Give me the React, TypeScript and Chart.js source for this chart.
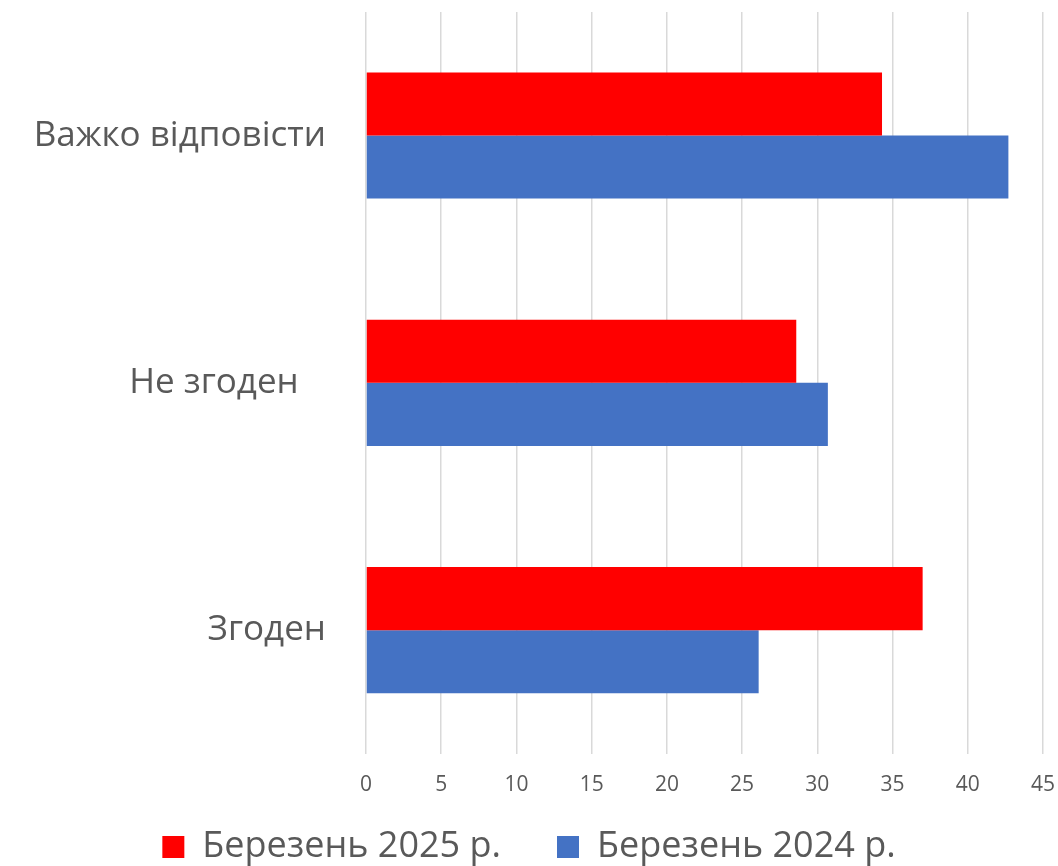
import React, { useEffect, useRef } from "react";
import { Chart, registerables } from "chart.js";

Chart.register(...registerables);

const categories = ["Важко відповісти", "Не згоден   ", "Згоден"];
const series2025 = [34.3, 28.6, 37.0];
const series2024 = [42.7, 30.7, 26.1];
const seriesNames = ["Березень 2025 р.", "Березень 2024 р."];
const xTicks = { min: 0, max: 45, step: 5 };

const FONT = "'Open Sans', 'Noto Sans', sans-serif";
const TEXT = "#595959";
const GRID = "#d9d9d9";

export default function App() {
  const ref = useRef<HTMLCanvasElement | null>(null);
  useEffect(() => {
    document.body.style.margin = "0";
    const ctx = ref.current!;
    const chart = new Chart(ctx, {
      type: "bar",
      data: {
        labels: categories,
        datasets: [
          { label: seriesNames[0], data: series2025, backgroundColor: "#ff0000", categoryPercentage: 0.51, barPercentage: 1 },
          { label: seriesNames[1], data: series2024, backgroundColor: "#4472c4", categoryPercentage: 0.51, barPercentage: 1 },
        ],
      },
      options: {
        indexAxis: "y",
        animation: false,
        responsive: false,
        maintainAspectRatio: false,
        layout: { padding: { top: 0, right: 0, left: 0, bottom: -9 } },
        scales: {
          x: {
            min: xTicks.min,
            max: xTicks.max,
            ticks: { stepSize: xTicks.step, color: TEXT, font: { family: FONT, size: 21 }, padding: 3 },
            grid: { color: GRID, lineWidth: 1.5, drawTicks: true, tickLength: 16, tickColor: "rgba(0,0,0,0)" },
            border: { display: false },
          },
          y: {
            ticks: { color: TEXT, font: { family: FONT, size: 35, lineHeight: 0.68 }, padding: 0 },
            grid: { display: true, drawOnChartArea: false, drawTicks: true, tickLength: 40, tickColor: "rgba(0,0,0,0)" },
            border: { display: false },
            afterFit: (s: any) => { s.width = 366; },
          },
        },
        plugins: {
          legend: {
            position: "bottom",
            labels: {
              color: TEXT,
              font: { family: FONT, size: 36 },
              boxWidth: 22,
              boxHeight: 22,
              padding: 28,
              generateLabels: (c: any) => {
                const items = Chart.defaults.plugins.legend.labels.generateLabels(c);
                return items.map((it: any, i: number) => ({ ...it, text: i === 0 ? it.text + "   " : it.text }));
              },
            },
          },
          tooltip: { enabled: false },
        },
      },
    });
    return () => chart.destroy();
  }, []);
  return (
    <div style={{ width: 1058, height: 866 }}>
      <canvas ref={ref} width={1058} height={866} style={{ display: "block" }} />
    </div>
  );
}
